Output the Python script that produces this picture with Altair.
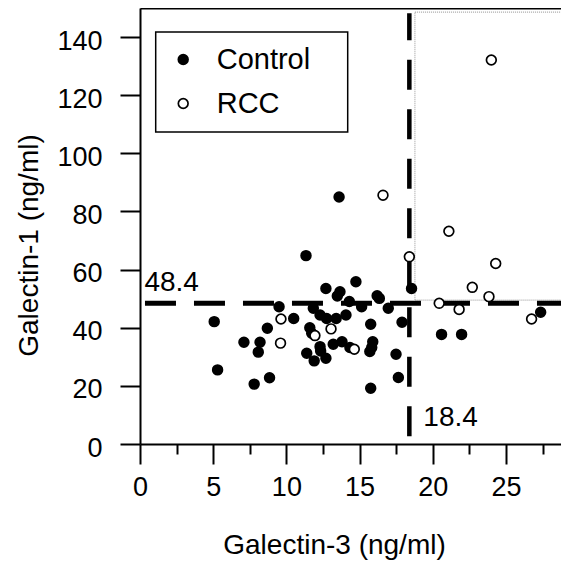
import altair as alt
import pandas as pd

# ---- data ----
control_x = [5.07, 5.3, 7.1, 8.2, 8.08, 8.7, 7.8, 8.85, 11.34, 18.55, 14.75, 12.7,
             13.66, 13.48, 16.2, 16.35, 14.3, 15.14, 9.5, 11.84, 16.96, 12.3, 12.75,
             13.4, 14.07, 10.5, 17.9, 15.76, 11.6, 11.73, 13.2, 13.8, 14.34, 15.9,
             15.83, 15.7, 17.49, 17.65, 15.76, 12.3, 12.34, 11.39, 12.7, 11.9, 13.6,
             20.6, 21.97, 27.37]
control_y = [42.1, 25.5, 35.0, 35.0, 31.6, 39.8, 20.6, 22.8, 64.8, 53.5, 55.8, 53.5,
             52.4, 50.9, 51.0, 50.1, 49.0, 47.2, 47.2, 46.7, 46.7, 44.4, 43.2,
             43.2, 44.4, 43.2, 41.9, 41.2, 40.0, 38.1, 34.3, 35.2, 33.2, 35.2,
             33.2, 31.8, 30.9, 22.9, 19.2, 33.5, 32.0, 31.2, 29.5, 28.6, 85.0,
             37.7, 37.7, 45.3]
rcc_x = [18.4, 24.3, 22.7, 23.84, 20.44, 21.8, 26.75, 24.0, 16.6, 21.1, 9.63, 9.6,
         13.05, 11.95, 14.64]
rcc_y = [64.4, 62.1, 53.9, 50.7, 48.4, 46.3, 43.0, 132.1, 85.6, 73.2, 43.0, 34.7,
         39.6, 37.3, 32.6]
groups = ["Control", "RCC"]
x_tick_values = [0, 2.5, 5, 7.5, 10, 12.5, 15, 17.5, 20, 22.5, 25, 27.5]
y_tick_values = [0, 20, 40, 60, 80, 100, 120, 140]
x_domain = [0, 28.76]
y_domain = [0, 150]
x_cut = 18.4
y_cut = 48.4
quad_x = 18.78
quad_y = [49.5, 148.6]
vline_y = [2.7, 148.2]
hline_x = [0.34, 30]

FONT = "Liberation Sans"

points = pd.DataFrame({
    "x": control_x + rcc_x,
    "y": control_y + rcc_y,
    "group": [groups[0]] * len(control_x) + [groups[1]] * len(rcc_x),
})

xs = alt.Scale(domain=x_domain, nice=False, zero=False)
ys = alt.Scale(domain=y_domain, nice=False, zero=False)

x_axis = alt.Axis(
    title="Galectin-3 (ng/ml)",
    values=x_tick_values,
    tickSize={"condition": {"test": "datum.value % 5 === 0", "value": 20}, "value": 10},
    labelExpr="datum.value % 5 === 0 ? datum.label : ''",
    grid=False, domain=True, domainColor="black", domainWidth=2,
    tickColor="black", tickWidth=2,
    labelFont=FONT, labelFontSize=27, labelColor="black", labelPadding=10,
    labelBaseline="top",
    titleFont=FONT, titleFontSize=28, titleColor="black", titleFontWeight="normal",
    titleX=194, titleY=109, titleBaseline="alphabetic", titleAlign="center",
    labelFlush=False, labelOverlap=False,
)
x_top_axis = alt.Axis(
    orient="top", title=None, labels=False, ticks=False, grid=False,
    domain=True, domainColor="black", domainWidth=2,
)
y_axis = alt.Axis(
    title="Galectin-1 (ng/ml)",
    values=y_tick_values,
    tickSize=20, grid=False, domain=True, domainColor="black", domainWidth=2,
    tickColor="black", tickWidth=2,
    labelFont=FONT, labelFontSize=27, labelColor="black", labelPadding=18,
    labelOffset=4, labelBaseline="middle",
    titleFont=FONT, titleFontSize=28, titleColor="black", titleFontWeight="normal",
    titleX=-103, titleY=237, titleBaseline="alphabetic", titleAlign="center",
    titleAngle=270, labelFlush=False, labelOverlap=False,
)

legend_pad = "\u00a0\u00a0\u00a0\u200b"

Y = alt.Y("y:Q", scale=ys, axis=y_axis)

pts = alt.Chart(points).mark_point(
    filled=True, size=95, stroke="black", strokeWidth=1.7, shape="circle", opacity=1
).encode(
    x=alt.X("x:Q", scale=xs, axis=x_axis),
    y=Y,
    fill=alt.Fill("group:N", scale=alt.Scale(domain=groups, range=["black", "white"]),
                  legend=alt.Legend(title=None,
                                    labelExpr="datum.label + '" + legend_pad + "'")),
)

quad = alt.Chart(pd.DataFrame({"x": [quad_x], "x2": [x_domain[1] + 1],
                               "y": [quad_y[0]], "y2": [quad_y[1]]})).mark_rect(
    fill=None, fillOpacity=0, stroke="#a8a8a8", strokeWidth=1.2, strokeDash=[1, 1], clip=True
).encode(x=alt.X("x:Q", scale=xs, axis=x_top_axis), x2="x2", y=Y, y2="y2")

hline = alt.Chart(pd.DataFrame({"x": [hline_x[0]], "x2": [hline_x[1]], "y": [y_cut]})).mark_rule(
    color="black", strokeWidth=5, strokeDash=[31, 18], clip=True
).encode(x=alt.X("x:Q", scale=xs, axis=None), x2="x2", y=Y)

vline = alt.Chart(pd.DataFrame({"x": [x_cut], "y": [vline_y[0]], "y2": [vline_y[1]]})).mark_rule(
    color="black", strokeWidth=4.5, strokeDash=[30, 19.5]
).encode(x=alt.X("x:Q", scale=xs, axis=None), y=Y, y2="y2")

htext = alt.Chart(pd.DataFrame({"x": [0.3], "y": [y_cut], "t": [str(y_cut)]})).mark_text(
    font=FONT, fontSize=28, align="left", baseline="alphabetic", dy=-12, color="black"
).encode(x=alt.X("x:Q", scale=xs, axis=None), y=Y, text="t:N")

vtext = alt.Chart(pd.DataFrame({"x": [x_cut], "y": [0], "t": [str(x_cut)]})).mark_text(
    font=FONT, fontSize=28, align="left", baseline="alphabetic", dx=14, dy=-18, color="black"
).encode(x=alt.X("x:Q", scale=xs, axis=None), y=Y, text="t:N")

chart = alt.layer(quad, hline, vline, pts, htext, vtext).resolve_axis(
    x="independent"
).properties(
    width=421, height=436,
    autosize=alt.AutoSizeParams(type="none"),
    padding={"left": 132, "top": 0, "right": 0, "bottom": 116},
).configure_view(
    strokeWidth=0
).configure_legend(
    orient="none", legendX=15.7, legendY=24, padding=13, symbolOffset=0,
    strokeColor="black", strokeWidth=1.5, fillColor="white",
    labelFont=FONT, labelFontSize=29, labelColor="black",
    symbolSize=95, symbolStrokeColor="black", symbolStrokeWidth=1.7, symbolType="circle",
    rowPadding=14, labelOffset=19,
)

chart.save("out.html", embed_options={"renderer": "svg", "actions": False})
